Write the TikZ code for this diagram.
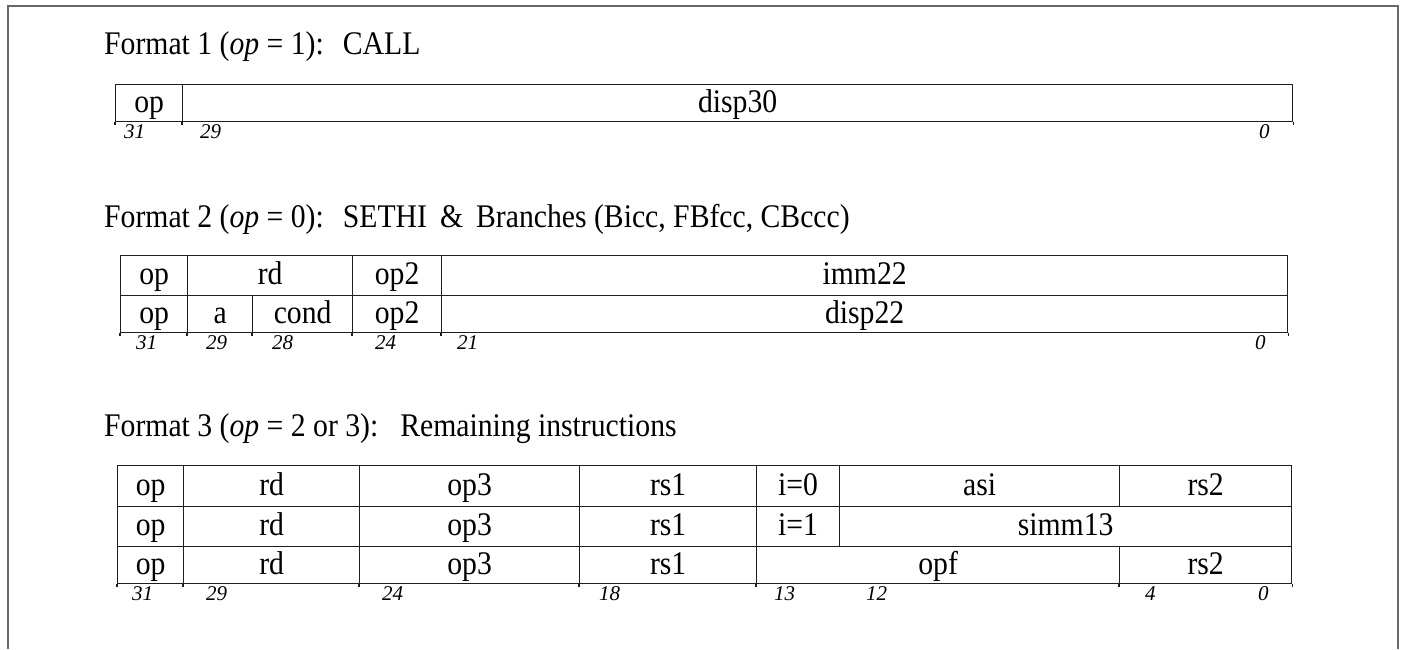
\documentclass[tikz,border=0pt]{standalone}
\usepackage{fontspec}
\setmainfont{Liberation Serif}[FakeStretch=0.9]
\newfontfamily\bitfont{Liberation Serif}
\definecolor{framegray}{RGB}{105,105,105}
\definecolor{linecol}{RGB}{30,30,30}
\begin{document}
\begin{tikzpicture}[x=1pt,y=-1pt,
  cell/.style={draw=linecol, line width=1.3pt, anchor=north west, inner sep=0pt,
    text height=25pt, text depth=7pt, font=\fontsize{33pt}{36pt}\selectfont},
  bit/.style={anchor=base west, inner sep=0pt, font=\bitfont\fontsize{21pt}{23pt}\selectfont\itshape},
  title/.style={anchor=base west, inner sep=0pt, font=\fontsize{33pt}{36pt}\selectfont},
  tick/.style={draw=linecol, line width=1.3pt}]
\useasboundingbox (0,0) rectangle (1403,649);
% frame
\draw[framegray, line width=2.5pt] (8,649) -- (8,6) -- (1398,6) -- (1398,649);

% ---------- Format 1
\node[title] (t1) at (104,54) {Format 1 (\textit{op} = 1):\hspace{19pt}CALL};
\node[cell, minimum width=67pt, minimum height=37pt] (a1) at (115,84) {op};
\node[cell, minimum width=1110pt, minimum height=37pt] (a2) at (182,84) {disp30};
\draw[tick] (a1.south west) -- ++(0,3);
\draw[tick] (a2.south west) -- ++(0,3);
\draw[tick] (a2.south east) -- ++(0,3);
\node[bit] (a31) at (124,138.5) {31};
\node[bit] (a29) at (200,138.5) {29};
\node[bit] (a0) at (1259,138.5) {0};

% ---------- Format 2
\node[title] (t2) at (104,227) {Format 2 (\textit{op} = 0):\hspace{19pt}SETHI\hspace{13pt}\&\hspace{13pt}Branches (Bicc, FBfcc, CBccc)};
\node[cell, minimum width=67pt, minimum height=40pt] (b1) at (120,255) {op};
\node[cell, minimum width=165pt, minimum height=40pt] (b2) at (187,255) {rd};
\node[cell, minimum width=89pt, minimum height=40pt] (b3) at (352,255) {op2};
\node[cell, minimum width=846pt, minimum height=40pt] (b4) at (441,255) {imm22};
\node[cell, minimum width=67pt, minimum height=37pt] (c1) at (120,295) {op};
\node[cell, minimum width=65pt, minimum height=37pt] (c2) at (187,295) {a};
\node[cell, minimum width=100pt, minimum height=37pt] (c3) at (252,295) {cond};
\node[cell, minimum width=89pt, minimum height=37pt] (c4) at (352,295) {op2};
\node[cell, minimum width=846pt, minimum height=37pt] (c5) at (441,295) {disp22};
\foreach \n in {c1,c2,c3,c4,c5} {\draw[tick] (\n.south west) -- ++(0,3);}
\draw[tick] (c5.south east) -- ++(0,3);
\node[bit] (b31) at (136,349.5) {31};
\node[bit] (b29) at (206,349.5) {29};
\node[bit] (b28) at (272,349.5) {28};
\node[bit] (b24) at (375,349.5) {24};
\node[bit] (b21) at (457,349.5) {21};
\node[bit] (b0) at (1255,349.5) {0};

% ---------- Format 3
\node[title] (t3) at (104,436) {Format 3 (\textit{op} = 2 or 3):\hspace{22pt}Remaining instructions};
% row 1
\node[cell, minimum width=66pt, minimum height=41pt] (d1) at (117,465) {op};
\node[cell, minimum width=176pt, minimum height=41pt] (d2) at (183,465) {rd};
\node[cell, minimum width=220pt, minimum height=41pt] (d3) at (359,465) {op3};
\node[cell, minimum width=177pt, minimum height=41pt] (d4) at (579,465) {rs1};
\node[cell, minimum width=83pt, minimum height=41pt] (d5) at (756,465) {i=0};
\node[cell, minimum width=280pt, minimum height=41pt] (d6) at (839,465) {asi};
\node[cell, minimum width=172pt, minimum height=41pt] (d7) at (1119,465) {rs2};
% row 2
\node[cell, minimum width=66pt, minimum height=40pt] (e1) at (117,506) {op};
\node[cell, minimum width=176pt, minimum height=40pt] (e2) at (183,506) {rd};
\node[cell, minimum width=220pt, minimum height=40pt] (e3) at (359,506) {op3};
\node[cell, minimum width=177pt, minimum height=40pt] (e4) at (579,506) {rs1};
\node[cell, minimum width=83pt, minimum height=40pt] (e5) at (756,506) {i=1};
\node[cell, minimum width=452pt, minimum height=40pt] (e6) at (839,506) {simm13};
% row 3
\node[cell, minimum width=66pt, minimum height=37pt] (f1) at (117,546) {op};
\node[cell, minimum width=176pt, minimum height=37pt] (f2) at (183,546) {rd};
\node[cell, minimum width=220pt, minimum height=37pt] (f3) at (359,546) {op3};
\node[cell, minimum width=177pt, minimum height=37pt] (f4) at (579,546) {rs1};
\node[cell, minimum width=363pt, minimum height=37pt] (f5) at (756,546) {opf};
\node[cell, minimum width=172pt, minimum height=37pt] (f6) at (1119,546) {rs2};
\foreach \n in {f1,f2,f3,f4,f5,f6} {\draw[tick] (\n.south west) -- ++(0,3);}
\draw[tick] (f6.south east) -- ++(0,3);
\node[bit] (f31) at (132,600.5) {31};
\node[bit] (f29) at (206,600.5) {29};
\node[bit] (f24) at (382,600.5) {24};
\node[bit] (f18) at (599,600.5) {18};
\node[bit] (f13) at (774,600.5) {13};
\node[bit] (f12) at (866,600.5) {12};
\node[bit] (f4b) at (1145,600.5) {4};
\node[bit] (f0) at (1258,600.5) {0};
\end{tikzpicture}
\end{document}
